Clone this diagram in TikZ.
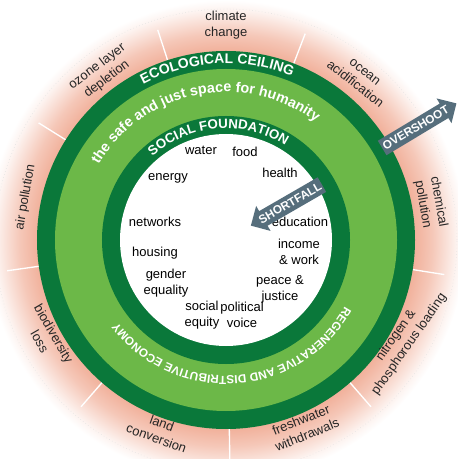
\documentclass[tikz,border=0pt]{standalone}
\usepackage{fontspec}
\setmainfont{Liberation Sans}
\usetikzlibrary{shapes.arrows,decorations.text}
\definecolor{darkring}{RGB}{10,120,58}
\definecolor{lightring}{RGB}{108,184,72}
\definecolor{halopink}{RGB}{241,176,154}
\definecolor{arrowgray}{RGB}{86,110,124}
\newcommand\ceilfont{\fontsize{10.5}{10.5}\selectfont\bfseries\color{white}}
\newcommand\socfont{\fontsize{10}{10}\selectfont\bfseries\color{white}}
\newcommand\spacefont{\fontsize{10.8}{10.8}\selectfont\bfseries\color{white}}
\newcommand\econfont{\fontsize{8.8}{8.8}\selectfont\bfseries\color{white}}
\pgfdeclareradialshading{halo}{\pgfpoint{0bp}{0bp}}{color(0bp)=(halopink); color(19.6bp)=(halopink); color(21.5bp)=(halopink!70!white); color(24bp)=(halopink!15!white); color(25bp)=(white); color(50bp)=(white)}
\begin{document}
\begin{tikzpicture}[x=0.75pt,y=0.75pt,
  lbl/.style={align=center,font=\fontsize{9.75}{12}\selectfont,inner sep=0pt},
  bnd/.style={align=center,font=\fontsize{9.75}{12}\selectfont,text=black!85,inner sep=0pt},
  gap/.style={white,line width=1pt},
  flow/.style={single arrow,fill=arrowgray,text=white,font=\fontsize{8.8}{8.8}\selectfont\bfseries,inner xsep=1pt,inner ysep=3pt,single arrow head extend=4.5pt}]
\useasboundingbox (-226,-219) rectangle (231,240);
\shade[shading=halo] (0,0) circle (240);
\draw[black!12,dotted] (0,0) circle (231);
\foreach \a in {108,148,188,229,271,311,351,30,69}
  \draw[gap] (\a:189) -- (\a:221);
\fill[darkring] (0,0) circle (189);
\fill[lightring] (0,0) circle (171);
\fill[darkring] (0,0) circle (124);
\fill[white] (0,0) circle (106);
\path[decorate,decoration={text along path,text align=center,text={|\ceilfont|ECOLOGICAL CEILING}}] (153:176.5) arc[start angle=153,end angle=33,radius=176.5];
\path[decorate,decoration={text along path,text align=center,text={|\socfont|SOCIAL FOUNDATION}}] (164.5:111.5) arc[start angle=164.5,end angle=24.5,radius=111.5];
\path[decorate,decoration={text along path,text align=center,text={|\spacefont|the safe and just space for humanity}}] (171:148) arc[start angle=171,end angle=31,radius=148];
\path[decorate,decoration={text along path,text align=center,text={|\econfont|REGENERATIVE AND DISTRIBUTIVE ECONOMY}}] (-6:136) arc[start angle=-6,end angle=-166,radius=136];
\node[lbl] (water) at (-25,90) {water};
\node[lbl] (food) at (19,88) {food};
\node[lbl] (energy) at (-58,62) {energy};
\node[lbl] (health) at (54,67) {health};
\node[lbl] (networks) at (-71,18) {networks};
\node[lbl] (education) at (74,18) {education};
\node[lbl] (housing) at (-71,-13) {housing};
\node[lbl] (income) at (73,-12) {income\\\& work};
\node[lbl] (gender) at (-60,-43) {gender\\equality};
\node[lbl] (peace) at (54,-49) {peace \&\\justice};
\node[lbl] (equity) at (-24,-75) {social\\equity};
\node[lbl] (voice) at (16,-75) {political\\voice};
\node[bnd] (climate) at (90:215) {climate\\change};
\node[bnd,rotate=37] (ozone) at (126.6:208) {ozone layer\\depletion};
\node[bnd,rotate=-38] (ocean) at (50.4:210) {ocean\\acidification};
\node[bnd,rotate=-80] (chemical) at (10.2:208) {chemical\\pollution};
\node[bnd,rotate=80] (air) at (168:205) {air pollution};
\node[bnd,rotate=-60] (biodiversity) at (208.6:204) {biodiversity\\loss};
\node[bnd,rotate=-20] (land) at (250.7:202) {land\\conversion};
\node[bnd,rotate=22] (freshwater) at (292.6:203) {freshwater\\withdrawals};
\node[bnd,rotate=55] (nitrogen) at (330.5:203) {nitrogen \&\\phosphorous loading};
\node[flow,rotate=31,anchor=tail] (overshoot) at (30.5:181) {OVERSHOOT};
\node[flow,shape border rotate=180,rotate=30,anchor=tail] (shortfall) at (30:111) {SHORTFALL};
\end{tikzpicture}
\end{document}
